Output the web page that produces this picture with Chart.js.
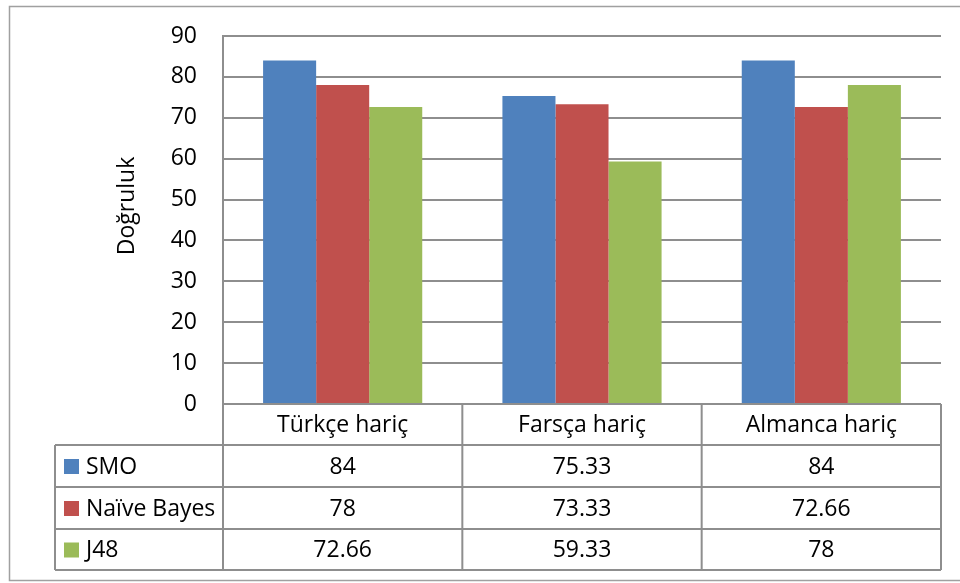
<!DOCTYPE html>
<html>
<head>
<meta charset="utf-8">
<script src="https://cdn.jsdelivr.net/npm/chart.js@4.4.1/dist/chart.umd.min.js"></script>
<style>
  html, body { margin: 0; padding: 0; background: #fff; }
  #wrap { width: 960px; height: 583px; }
</style>
</head>
<body>
<div id="wrap"><canvas id="bchart" width="960" height="583"></canvas></div>
<script>
// data
const categories = ["Türkçe hariç", "Farsça hariç", "Almanca hariç"];
const seriesNames = ["SMO", "Naïve Bayes", "J48"];
const smo = [84, 75.33, 84];
const naiveBayes = [78, 73.33, 72.66];
const j48 = [72.66, 59.33, 78];
const seriesColors = ["#4F81BD", "#C0504D", "#9BBB59"];
const yTitle = "Doğruluk";

const FONT = "'Open Sans', 'Noto Sans', sans-serif";
const FSIZE = 23;
const lineGray = "#8e8e8e";

// data table drawn under the plot, columns follow the x scale
const tablePlugin = {
    id: 'dataTable',
    afterDraw(chart) {
        const ctx = chart.ctx;
        const area = chart.chartArea;
        const x = chart.scales.x;
        const step = x.getPixelForValue(1) - x.getPixelForValue(0);
        const rowTops = [area.bottom, 445, 487, 529, 570];
        const leftEdge = 55;

        ctx.save();
        // outer frame
        ctx.strokeStyle = "#a0a0a0";
        ctx.lineWidth = 1.5;
        ctx.strokeRect(9.5, 6.5, 980, 574);

        ctx.strokeStyle = lineGray;
        ctx.lineWidth = 2;
        ctx.beginPath();
        for (let r = 1; r < rowTops.length; r++) {
            ctx.moveTo(leftEdge, rowTops[r]);
            ctx.lineTo(area.right, rowTops[r]);
        }
        // column lines
        for (let i = 0; i <= categories.length; i++) {
            const cx = x.getPixelForValue(0) - step / 2 + i * step;
            ctx.moveTo(cx, area.bottom);
            ctx.lineTo(cx, rowTops[4]);
        }
        ctx.moveTo(leftEdge, rowTops[1]);
        ctx.lineTo(leftEdge, rowTops[4]);
        ctx.stroke();

        ctx.fillStyle = "#000";
        ctx.font = FSIZE + "px " + FONT;
        ctx.textBaseline = "middle";
        ctx.textAlign = "center";
        categories.forEach((c, i) => {
            ctx.fillText(c, x.getPixelForValue(i), (rowTops[0] + rowTops[1]) / 2 + 1);
        });
        chart.data.datasets.forEach((ds, d) => {
            const cy = (rowTops[d + 1] + rowTops[d + 2]) / 2 + 1;
            ctx.textAlign = "center";
            ds.data.forEach((v, i) => {
                ctx.fillText(String(v), x.getPixelForValue(i), cy);
            });
            ctx.fillStyle = ds.backgroundColor;
            ctx.fillRect(64, cy - 8, 15, 15);
            ctx.fillStyle = "#000";
            ctx.textAlign = "left";
            ctx.fillText(ds.label, 86, cy);
        });

        // axis title
        ctx.translate(127, 206);
        ctx.rotate(-Math.PI / 2);
        ctx.textAlign = "center";
        ctx.fillText(yTitle, 0, 0);
        ctx.restore();
    }
};

const allSeries = [smo, naiveBayes, j48];

new Chart(document.getElementById("bchart"), {
    type: 'bar',
    data: {
        labels: categories,
        datasets: seriesNames.map((name, i) => ({
            label: name,
            data: allSeries[i],
            backgroundColor: seriesColors[i],
            borderWidth: 0,
            barPercentage: 1,
            categoryPercentage: 0.665
        }))
    },
    options: {
        responsive: false,
        animation: false,
        layout: { padding: { top: 36, bottom: 179, right: 19, left: 0 } },
        plugins: {
            legend: { display: false },
            tooltip: { enabled: false }
        },
        scales: {
            x: { display: false },
            y: {
                min: 0,
                max: 90,
                ticks: {
                    stepSize: 10,
                    color: "#000",
                    padding: 26,
                    font: { size: FSIZE, family: FONT }
                },
                grid: { color: lineGray, lineWidth: 2, drawTicks: false },
                border: { color: lineGray, width: 2 },
                afterFit(scale) {
                    scale.width = 223;
                    scale.paddingTop = 0;
                    scale.paddingBottom = 0;
                }
            }
        }
    },
    plugins: [tablePlugin]
});
</script>
</body>
</html>
